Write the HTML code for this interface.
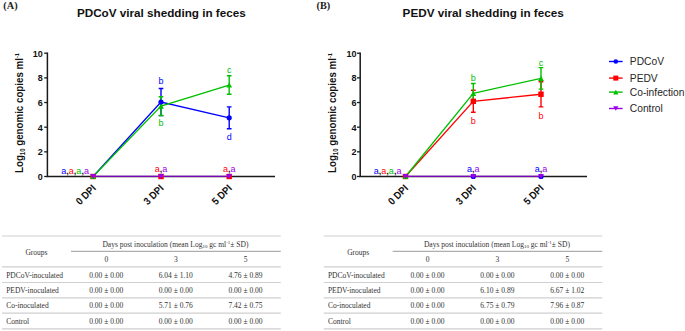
<!DOCTYPE html>
<html><head><meta charset="utf-8"><style>
html,body{margin:0;padding:0;background:#fff;width:685px;height:331px;overflow:hidden}
svg{display:block}
text{font-family:"Liberation Sans",sans-serif}
.tk{font-size:9px;font-weight:bold;fill:#111}
.xl{font-size:9.4px;font-weight:bold;fill:#111}
.yt{font-size:9.75px;font-weight:bold;fill:#111}
.lb{font-size:9px}
.tt{font-size:11.7px;font-weight:bold;fill:#111}
.pl{font-family:"Liberation Serif",serif;font-size:10.6px;font-weight:bold;fill:#222}
.lg{font-size:10.25px;fill:#262626}
.tb{font-family:"Liberation Serif",serif;font-size:7.5px;fill:#333}
</style></head><body>
<svg width="685" height="331" viewBox="0 0 685 331">
<path d="M47.4 52.50V176.60H275" stroke="#1a1a1a" stroke-width="1.5" fill="none"/>
<path d="M44.199999999999996 176.50H47.4" stroke="#1a1a1a" stroke-width="1.3"/>
<text transform="translate(42.8,179.90) scale(1,1.1)" text-anchor="end" class="tk">0</text>
<path d="M44.199999999999996 151.84H47.4" stroke="#1a1a1a" stroke-width="1.3"/>
<text transform="translate(42.8,155.24) scale(1,1.1)" text-anchor="end" class="tk">2</text>
<path d="M44.199999999999996 127.18H47.4" stroke="#1a1a1a" stroke-width="1.3"/>
<text transform="translate(42.8,130.58) scale(1,1.1)" text-anchor="end" class="tk">4</text>
<path d="M44.199999999999996 102.52H47.4" stroke="#1a1a1a" stroke-width="1.3"/>
<text transform="translate(42.8,105.92) scale(1,1.1)" text-anchor="end" class="tk">6</text>
<path d="M44.199999999999996 77.86H47.4" stroke="#1a1a1a" stroke-width="1.3"/>
<text transform="translate(42.8,81.26) scale(1,1.1)" text-anchor="end" class="tk">8</text>
<path d="M44.199999999999996 53.20H47.4" stroke="#1a1a1a" stroke-width="1.3"/>
<text transform="translate(42.8,56.60) scale(1,1.1)" text-anchor="end" class="tk">10</text>
<text transform="translate(96.50,188.90) rotate(-45) scale(1,1.1)" text-anchor="end" class="xl">0 DPI</text>
<text transform="translate(164.40,188.90) rotate(-45) scale(1,1.1)" text-anchor="end" class="xl">3 DPI</text>
<text transform="translate(232.60,188.90) rotate(-45) scale(1,1.1)" text-anchor="end" class="xl">5 DPI</text>
<text transform="translate(22.8,173) rotate(-90) scale(1,1.05)" text-anchor="start" class="yt">Log<tspan font-size="6" dy="2">10</tspan><tspan dy="-2"> genomic copies ml</tspan><tspan font-size="5.8" dy="-3.3">-1</tspan></text>
<path d="M161.00 88.46V115.59M158.65 88.46H163.35M158.65 115.59H163.35" stroke="#0000ff" stroke-width="1.4" fill="none"/>
<path d="M229.20 106.84V128.78M226.85 106.84H231.55M226.85 128.78H231.55" stroke="#0000ff" stroke-width="1.4" fill="none"/>
<path d="M161.00 96.72V115.47M158.65 96.72H163.35M158.65 115.47H163.35" stroke="#00c000" stroke-width="1.4" fill="none"/>
<path d="M229.20 75.76V94.26M226.85 75.76H231.55M226.85 94.26H231.55" stroke="#00c000" stroke-width="1.4" fill="none"/>
<path d="M93.10 176.50 L161.00 102.03 L229.20 117.81" stroke="#0000ff" stroke-width="1.3" fill="none"/>
<path d="M93.10 176.50 L161.00 106.10 L229.20 85.01" stroke="#00c000" stroke-width="1.3" fill="none"/>
<circle cx="161.00" cy="102.03" r="2.6" fill="#0000ff"/>
<circle cx="229.20" cy="117.81" r="2.6" fill="#0000ff"/>
<polygon points="158.10,108.71 163.90,108.71 161.00,103.49" fill="#00c000"/>
<polygon points="226.30,87.62 232.10,87.62 229.20,82.40" fill="#00c000"/>
<rect x="90.40" y="173.80" width="5.4" height="5.4" fill="#ff0000"/>
<rect x="158.30" y="173.80" width="5.4" height="5.4" fill="#ff0000"/>
<rect x="226.50" y="173.80" width="5.4" height="5.4" fill="#ff0000"/>
<polygon points="90.20,179.11 96.00,179.11 93.10,173.89" fill="#00c000"/>
<path d="M93.1 176.25H229.2" stroke="#9b00e8" stroke-width="1.2"/>
<polygon points="90.20,173.89 96.00,173.89 93.10,179.11" fill="#9b00e8"/>
<polygon points="158.10,173.89 163.90,173.89 161.00,179.11" fill="#9b00e8"/>
<polygon points="226.30,173.89 232.10,173.89 229.20,179.11" fill="#9b00e8"/>
<path d="M360.2 52.50V176.60H587" stroke="#1a1a1a" stroke-width="1.5" fill="none"/>
<path d="M357.0 176.50H360.2" stroke="#1a1a1a" stroke-width="1.3"/>
<text transform="translate(356.4,179.90) scale(1,1.1)" text-anchor="end" class="tk">0</text>
<path d="M357.0 151.84H360.2" stroke="#1a1a1a" stroke-width="1.3"/>
<text transform="translate(356.4,155.24) scale(1,1.1)" text-anchor="end" class="tk">2</text>
<path d="M357.0 127.18H360.2" stroke="#1a1a1a" stroke-width="1.3"/>
<text transform="translate(356.4,130.58) scale(1,1.1)" text-anchor="end" class="tk">4</text>
<path d="M357.0 102.52H360.2" stroke="#1a1a1a" stroke-width="1.3"/>
<text transform="translate(356.4,105.92) scale(1,1.1)" text-anchor="end" class="tk">6</text>
<path d="M357.0 77.86H360.2" stroke="#1a1a1a" stroke-width="1.3"/>
<text transform="translate(356.4,81.26) scale(1,1.1)" text-anchor="end" class="tk">8</text>
<path d="M357.0 53.20H360.2" stroke="#1a1a1a" stroke-width="1.3"/>
<text transform="translate(356.4,56.60) scale(1,1.1)" text-anchor="end" class="tk">10</text>
<text transform="translate(408.90,188.90) rotate(-45) scale(1,1.1)" text-anchor="end" class="xl">0 DPI</text>
<text transform="translate(476.70,188.90) rotate(-45) scale(1,1.1)" text-anchor="end" class="xl">3 DPI</text>
<text transform="translate(544.40,188.90) rotate(-45) scale(1,1.1)" text-anchor="end" class="xl">5 DPI</text>
<text transform="translate(335.9,173) rotate(-90) scale(1,1.05)" text-anchor="start" class="yt">Log<tspan font-size="6" dy="2">10</tspan><tspan dy="-2"> genomic copies ml</tspan><tspan font-size="5.8" dy="-3.3">-1</tspan></text>
<path d="M473.30 90.31V112.26M470.95 90.31H475.65M470.95 112.26H475.65" stroke="#ff0000" stroke-width="1.4" fill="none"/>
<path d="M541.00 81.68V106.84M538.65 81.68H543.35M538.65 106.84H543.35" stroke="#ff0000" stroke-width="1.4" fill="none"/>
<path d="M473.30 83.53V103.01M470.95 83.53H475.65M470.95 103.01H475.65" stroke="#00c000" stroke-width="1.4" fill="none"/>
<path d="M541.00 67.63V89.08M538.65 67.63H543.35M538.65 89.08H543.35" stroke="#00c000" stroke-width="1.4" fill="none"/>
<path d="M405.50 176.50 L473.30 101.29 L541.00 94.26" stroke="#ff0000" stroke-width="1.3" fill="none"/>
<path d="M405.50 176.50 L473.30 93.27 L541.00 78.35" stroke="#00c000" stroke-width="1.3" fill="none"/>
<circle cx="405.50" cy="176.50" r="2.6" fill="#0000ff"/>
<circle cx="473.30" cy="176.50" r="2.6" fill="#0000ff"/>
<circle cx="541.00" cy="176.50" r="2.6" fill="#0000ff"/>
<rect x="470.60" y="98.59" width="5.4" height="5.4" fill="#ff0000"/>
<rect x="538.30" y="91.56" width="5.4" height="5.4" fill="#ff0000"/>
<rect x="402.80" y="173.80" width="5.4" height="5.4" fill="#ff0000"/>
<polygon points="470.40,95.88 476.20,95.88 473.30,90.66" fill="#00c000"/>
<polygon points="538.10,80.96 543.90,80.96 541.00,75.74" fill="#00c000"/>
<polygon points="402.60,179.11 408.40,179.11 405.50,173.89" fill="#00c000"/>
<path d="M405.5 176.25H541" stroke="#9b00e8" stroke-width="1.2"/>
<polygon points="402.60,173.89 408.40,173.89 405.50,179.11" fill="#9b00e8"/>
<polygon points="470.40,173.89 476.20,173.89 473.30,179.11" fill="#9b00e8"/>
<polygon points="538.10,173.89 543.90,173.89 541.00,179.11" fill="#9b00e8"/>
<text transform="translate(88.90,173.90) scale(1,1.1)" text-anchor="end" class="lb"><tspan fill="#0000ff">a</tspan><tspan fill="#222" font-weight="bold">,</tspan><tspan fill="#ff0000">a</tspan><tspan fill="#222" font-weight="bold">,</tspan><tspan fill="#00c000">a</tspan><tspan fill="#222" font-weight="bold">,</tspan><tspan fill="#9b00e8">a</tspan></text>
<text transform="translate(161.00,172.40) scale(1,1.1)" text-anchor="middle" class="lb"><tspan fill="#ff0000">a</tspan><tspan fill="#222" font-weight="bold">,</tspan><tspan fill="#9b00e8">a</tspan></text>
<text transform="translate(229.20,172.40) scale(1,1.1)" text-anchor="middle" class="lb"><tspan fill="#ff0000">a</tspan><tspan fill="#222" font-weight="bold">,</tspan><tspan fill="#9b00e8">a</tspan></text>
<text transform="translate(161.00,84.00) scale(1,1.1)" text-anchor="middle" class="lb" fill="#0000ff">b</text>
<text transform="translate(161.00,126.00) scale(1,1.1)" text-anchor="middle" class="lb" fill="#00c000">b</text>
<text transform="translate(229.20,73.00) scale(1,1.1)" text-anchor="middle" class="lb" fill="#00c000">c</text>
<text transform="translate(229.20,140.00) scale(1,1.1)" text-anchor="middle" class="lb" fill="#0000ff">d</text>
<text transform="translate(401.40,173.90) scale(1,1.1)" text-anchor="end" class="lb"><tspan fill="#0000ff">a</tspan><tspan fill="#222" font-weight="bold">,</tspan><tspan fill="#ff0000">a</tspan><tspan fill="#222" font-weight="bold">,</tspan><tspan fill="#00c000">a</tspan><tspan fill="#222" font-weight="bold">,</tspan><tspan fill="#9b00e8">a</tspan></text>
<text transform="translate(473.30,172.40) scale(1,1.1)" text-anchor="middle" class="lb"><tspan fill="#0000ff">a</tspan><tspan fill="#222" font-weight="bold">,</tspan><tspan fill="#9b00e8">a</tspan></text>
<text transform="translate(541.00,172.40) scale(1,1.1)" text-anchor="middle" class="lb"><tspan fill="#0000ff">a</tspan><tspan fill="#222" font-weight="bold">,</tspan><tspan fill="#9b00e8">a</tspan></text>
<text transform="translate(473.30,80.50) scale(1,1.1)" text-anchor="middle" class="lb" fill="#00c000">b</text>
<text transform="translate(473.30,124.00) scale(1,1.1)" text-anchor="middle" class="lb" fill="#ff0000">b</text>
<text transform="translate(541.00,66.00) scale(1,1.1)" text-anchor="middle" class="lb" fill="#00c000">c</text>
<text transform="translate(541.00,118.50) scale(1,1.1)" text-anchor="middle" class="lb" fill="#ff0000">b</text>
<text x="76.9" y="16.5" class="tt">PDCoV viral shedding in feces</text>
<text x="402.6" y="16.5" class="tt">PEDV viral shedding in feces</text>
<text transform="translate(3.3,8.5) scale(0.97,1.07)" class="pl">(A)</text>
<text transform="translate(316.6,8.5) scale(0.97,1.07)" class="pl">(B)</text>
<path d="M609 61.5H622.6" stroke="#0000ff" stroke-width="1.4"/>
<circle cx="615.80" cy="61.50" r="2.3" fill="#0000ff"/>
<text x="629.8" y="64.90" class="lg">PDCoV</text>
<path d="M609 78.1H622.6" stroke="#ff0000" stroke-width="1.4"/>
<rect x="613.30" y="75.60" width="5.0" height="5.0" fill="#ff0000"/>
<text x="629.8" y="81.50" class="lg">PEDV</text>
<path d="M609 92.1H622.6" stroke="#00c000" stroke-width="1.4"/>
<polygon points="613.20,94.44 618.40,94.44 615.80,89.76" fill="#00c000"/>
<text x="629.8" y="95.50" class="lg">Co-infection</text>
<path d="M609 108.5H622.6" stroke="#9b00e8" stroke-width="1.4"/>
<polygon points="613.20,106.16 618.40,106.16 615.80,110.84" fill="#9b00e8"/>
<text x="629.8" y="111.90" class="lg">Control</text>
<path d="M2 236H280.8M2 266.8H280.8M2 282.5H280.8M2 297.9H280.8M2 313.1H280.8M2 328.8H280.8" stroke="#d0d0d0" stroke-width="1.2"/>
<path d="M71 251.3H280.8" stroke="#9a9a9a" stroke-width="1"/>
<text x="36.50" y="254.8" text-anchor="middle" class="tb">Groups</text>
<text x="175.40" y="246.9" text-anchor="middle" class="tb">Days post inoculation (mean Log<tspan font-size="5" dy="1.5">10</tspan><tspan dy="-1.5"> gc ml</tspan><tspan font-size="5" dy="-2.5">-1</tspan><tspan dy="2.5">± SD)</tspan></text>
<text x="106.3" y="262.2" text-anchor="middle" class="tb">0</text>
<text x="175.8" y="262.2" text-anchor="middle" class="tb">3</text>
<text x="245.5" y="262.2" text-anchor="middle" class="tb">5</text>
<text x="6.2" y="277.9" class="tb">PDCoV-inoculated</text>
<text x="106.3" y="277.9" text-anchor="middle" class="tb">0.00 ± 0.00</text>
<text x="175.8" y="277.9" text-anchor="middle" class="tb">6.04 ± 1.10</text>
<text x="245.5" y="277.9" text-anchor="middle" class="tb">4.76 ± 0.89</text>
<text x="6.2" y="292.9" class="tb">PEDV-inoculated</text>
<text x="106.3" y="292.9" text-anchor="middle" class="tb">0.00 ± 0.00</text>
<text x="175.8" y="292.9" text-anchor="middle" class="tb">0.00 ± 0.00</text>
<text x="245.5" y="292.9" text-anchor="middle" class="tb">0.00 ± 0.00</text>
<text x="6.2" y="308.3" class="tb">Co-inoculated</text>
<text x="106.3" y="308.3" text-anchor="middle" class="tb">0.00 ± 0.00</text>
<text x="175.8" y="308.3" text-anchor="middle" class="tb">5.71 ± 0.76</text>
<text x="245.5" y="308.3" text-anchor="middle" class="tb">7.42 ± 0.75</text>
<text x="6.2" y="323.5" class="tb">Control</text>
<text x="106.3" y="323.5" text-anchor="middle" class="tb">0.00 ± 0.00</text>
<text x="175.8" y="323.5" text-anchor="middle" class="tb">0.00 ± 0.00</text>
<text x="245.5" y="323.5" text-anchor="middle" class="tb">0.00 ± 0.00</text>
<path d="M323.7 236H602.3M323.7 266.8H602.3M323.7 282.5H602.3M323.7 297.9H602.3M323.7 313.1H602.3M323.7 328.8H602.3" stroke="#d0d0d0" stroke-width="1.2"/>
<path d="M392.7 251.3H602.3" stroke="#9a9a9a" stroke-width="1"/>
<text x="358.20" y="254.8" text-anchor="middle" class="tb">Groups</text>
<text x="496.90" y="246.9" text-anchor="middle" class="tb">Days post inoculation (mean Log<tspan font-size="5" dy="1.5">10</tspan><tspan dy="-1.5"> gc ml</tspan><tspan font-size="5" dy="-2.5">-1</tspan><tspan dy="2.5">± SD)</tspan></text>
<text x="427.5" y="262.2" text-anchor="middle" class="tb">0</text>
<text x="497.4" y="262.2" text-anchor="middle" class="tb">3</text>
<text x="567.3" y="262.2" text-anchor="middle" class="tb">5</text>
<text x="327.9" y="277.9" class="tb">PDCoV-inoculated</text>
<text x="427.5" y="277.9" text-anchor="middle" class="tb">0.00 ± 0.00</text>
<text x="497.4" y="277.9" text-anchor="middle" class="tb">0.00 ± 0.00</text>
<text x="567.3" y="277.9" text-anchor="middle" class="tb">0.00 ± 0.00</text>
<text x="327.9" y="292.9" class="tb">PEDV-inoculated</text>
<text x="427.5" y="292.9" text-anchor="middle" class="tb">0.00 ± 0.00</text>
<text x="497.4" y="292.9" text-anchor="middle" class="tb">6.10 ± 0.89</text>
<text x="567.3" y="292.9" text-anchor="middle" class="tb">6.67 ± 1.02</text>
<text x="327.9" y="308.3" class="tb">Co-inoculated</text>
<text x="427.5" y="308.3" text-anchor="middle" class="tb">0.00 ± 0.00</text>
<text x="497.4" y="308.3" text-anchor="middle" class="tb">6.75 ± 0.79</text>
<text x="567.3" y="308.3" text-anchor="middle" class="tb">7.96 ± 0.87</text>
<text x="327.9" y="323.5" class="tb">Control</text>
<text x="427.5" y="323.5" text-anchor="middle" class="tb">0.00 ± 0.00</text>
<text x="497.4" y="323.5" text-anchor="middle" class="tb">0.00 ± 0.00</text>
<text x="567.3" y="323.5" text-anchor="middle" class="tb">0.00 ± 0.00</text>
</svg></body></html>
